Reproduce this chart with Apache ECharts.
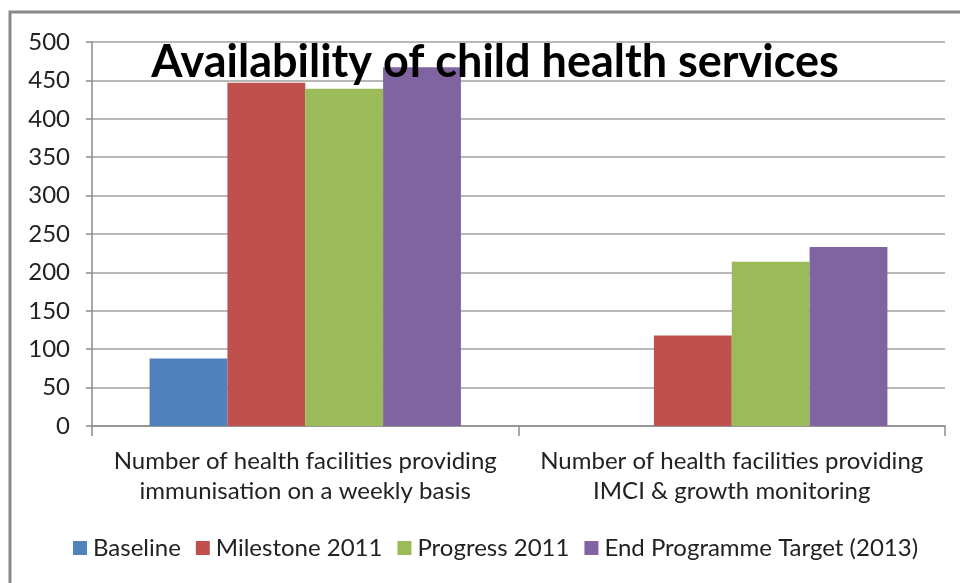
<!DOCTYPE html>
<html><head><meta charset="utf-8">
<script src="https://cdn.jsdelivr.net/npm/echarts@6/dist/echarts.min.js"></script>
<style>html,body{margin:0;padding:0;background:#fff}#c{width:960px;height:583px}</style>
</head><body><div id="c"></div>
<script>
const categories = ["Number of health facilities providing\nimmunisation on a weekly basis", "Number of health facilities providing\nIMCI & growth monitoring"];
const seriesNames = ["Baseline", "Milestone 2011", "Progress 2011", "End Programme Target (2013)"];
const baseline = [88, null];
const milestone2011 = [447, 118];
const progress2011 = [439, 214];
const endTarget = [467, 233];
const yTicks = [0, 50, 100, 150, 200, 250, 300, 350, 400, 450, 500];
const colors = ["#4F81BD", "#C0504D", "#9BBB59", "#8064A2"];

const font = "Lato, 'Open Sans', sans-serif";
const values = [baseline, milestone2011, progress2011, endTarget];
const chart = echarts.init(document.getElementById('c'), null, {renderer: 'canvas'});
chart.setOption({
  animation: false,
  title: {
    text: "Availability of child health services",
    left: 490, top: 35, textAlign: 'center',
    textStyle: {fontFamily: font, fontWeight: 'bold', fontSize: 45, color: '#000'}
  },
  graphic: [{
    type: 'rect', z: 100, silent: true,
    shape: {x: 10, y: 12, width: 1000, height: 650},
    style: {fill: 'none', stroke: '#8a8a8a', lineWidth: 3}
  }],
  legend: {
    bottom: 18, left: 68, itemWidth: 14, itemHeight: 14, itemGap: 15,
    icon: 'rect',
    textStyle: {fontFamily: font, fontSize: 24, color: '#222', padding: [0, 0, 0, 1]},
    data: seriesNames
  },
  grid: {left: 92, right: 15, top: 42, bottom: 157, containLabel: false},
  xAxis: {
    type: 'category', data: categories,
    axisLine: {lineStyle: {color: '#8c8c8c', width: 1.5}},
    axisTick: {show: true, length: 10, lineStyle: {color: '#8c8c8c', width: 1.5}},
    axisLabel: {fontFamily: font, fontSize: 24, color: '#222', lineHeight: 30, margin: 20, interval: 0}
  },
  yAxis: {
    type: 'value', min: yTicks[0], max: yTicks[yTicks.length - 1], interval: 50,
    axisLine: {show: true, lineStyle: {color: '#8c8c8c', width: 1.5}},
    axisTick: {show: true, length: 6, lineStyle: {color: '#8c8c8c', width: 1.5}},
    axisLabel: {fontFamily: font, fontSize: 24, color: '#222', margin: 22},
    splitLine: {lineStyle: {color: '#a0a0a0', width: 1.5}}
  },
  series: seriesNames.map((n, i) => ({
    name: n, type: 'bar', data: values[i],
    itemStyle: {color: colors[i]},
    barGap: '0%', barCategoryGap: '27%'
  }))
});
</script></body></html>
